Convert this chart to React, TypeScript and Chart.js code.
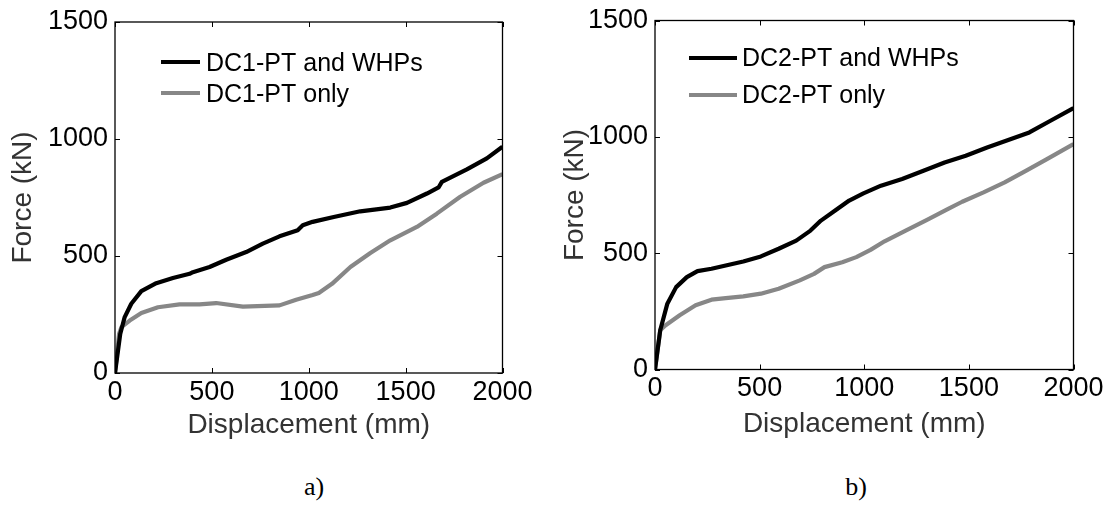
import React, { useEffect, useRef } from 'react';
import { Chart, registerables } from 'chart.js';

Chart.register(...registerables);

// ---------- data ----------
// panel a) DC1
const dispA_WHP = [0, 27, 50, 84, 136, 213, 299, 385, 402, 488, 574, 677, 763, 849, 943, 969, 1020, 1129, 1266, 1421, 1507, 1610, 1670, 1687, 1816, 1919, 2000];
const forceA_WHP = [0, 167, 239, 296, 350, 384, 406, 424, 431, 453, 484, 517, 553, 584, 610, 631, 646, 667, 691, 707, 727, 767, 793, 817, 870, 917, 967];
const dispA_PT = [0, 21, 33, 76, 136, 222, 333, 436, 522, 660, 849, 935, 1020, 1052, 1120, 1215, 1318, 1421, 1558, 1661, 1782, 1902, 2000];
const forceA_PT = [0, 167, 196, 224, 256, 281, 293, 293, 299, 284, 289, 313, 333, 342, 381, 453, 513, 567, 624, 681, 753, 813, 850];

// panel b) DC2
const dispB_WHP = [0, 25, 59, 101, 152, 203, 270, 338, 422, 506, 591, 675, 743, 793, 861, 928, 996, 1080, 1181, 1283, 1384, 1485, 1587, 1688, 1789, 1890, 2000];
const forceB_WHP = [0, 169, 283, 354, 397, 423, 433, 447, 464, 486, 519, 554, 597, 640, 683, 726, 757, 790, 819, 854, 890, 919, 954, 986, 1019, 1069, 1123];
const dispB_PT = [0, 25, 51, 118, 194, 270, 338, 422, 506, 591, 692, 760, 810, 895, 962, 1030, 1097, 1198, 1300, 1401, 1468, 1570, 1671, 1772, 1873, 2000];
const forceB_PT = [0, 169, 190, 233, 276, 300, 307, 314, 326, 347, 383, 411, 440, 461, 483, 514, 551, 597, 643, 690, 721, 761, 804, 854, 904, 969];

const labelsA = ['DC1-PT and WHPs', 'DC1-PT only'];
const labelsB = ['DC2-PT and WHPs', 'DC2-PT only'];
const xTicksMax = 2000;
const yTicksMax = 1500;
const tickStep = 500;

const FONT = 'Liberation Sans';
const BLACK = '#000000';
const GRAY = '#878787';

const toPts = (xs: number[], ys: number[]) => xs.map((x, i) => ({ x, y: ys[i] }));

const boxTicksPlugin = {
  id: 'boxTicks',
  afterDraw(chart: any) {
    const { ctx, chartArea: a, scales } = chart;
    const x = scales.x;
    const y = scales.y;
    const L = 5;
    ctx.save();
    ctx.strokeStyle = '#000';
    ctx.lineWidth = 1.3;
    ctx.strokeRect(a.left, a.top, a.right - a.left, a.bottom - a.top);
    ctx.beginPath();
    x.ticks.forEach((t: any) => {
      const px = Math.round(x.getPixelForValue(t.value)) + 0.5;
      ctx.moveTo(px, a.bottom);
      ctx.lineTo(px, a.bottom - L);
      ctx.moveTo(px, a.top);
      ctx.lineTo(px, a.top + L);
    });
    y.ticks.forEach((t: any) => {
      const py = Math.round(y.getPixelForValue(t.value)) + 0.5;
      ctx.moveTo(a.left, py);
      ctx.lineTo(a.left + L, py);
      ctx.moveTo(a.right, py);
      ctx.lineTo(a.right - L, py);
    });
    ctx.lineWidth = 1;
    ctx.stroke();
    ctx.restore();
  },
};

const innerLegendPlugin = {
  id: 'innerLegend',
  afterDraw(chart: any, _args: any, opts: any) {
    const { ctx } = chart;
    ctx.save();
    ctx.font = `${opts.fontSize}px "${FONT}"`;
    ctx.textBaseline = 'middle';
    ctx.textAlign = 'left';
    chart.data.datasets.forEach((ds: any, i: number) => {
      const ly = opts.ys[i];
      ctx.strokeStyle = ds.borderColor;
      ctx.lineWidth = ds.borderWidth;
      ctx.lineCap = 'butt';
      ctx.beginPath();
      ctx.moveTo(opts.x1, ly);
      ctx.lineTo(opts.x2, ly);
      ctx.stroke();
      ctx.fillStyle = '#000';
      ctx.fillText(ds.label, opts.textX, ly + opts.textDy);
    });
    ctx.restore();
  },
};

type PanelProps = {
  left: number;
  width: number;
  height: number;
  yAxisWidth: number;
  xAxisHeight: number;
  padTop: number;
  padRight: number;
  yTitlePad: number;
  xTitlePad: number;
  labels: string[];
  whp: { x: number; y: number }[];
  pt: { x: number; y: number }[];
  legend: { x1: number; x2: number; textX: number; ys: number[]; textDy: number; fontSize: number };
};

function Panel(p: PanelProps) {
  const ref = useRef<HTMLCanvasElement>(null);
  useEffect(() => {
    if (!ref.current) return;
    const tickFont = { family: FONT, size: 27 };
    const titleFont = { family: FONT, size: 28 };
    const plain = (v: any) => String(v);
    const chart = new Chart(ref.current, {
      type: 'line',
      data: {
        datasets: [
          { label: p.labels[0], data: p.whp, borderColor: BLACK, backgroundColor: BLACK, borderWidth: 4.2 },
          { label: p.labels[1], data: p.pt, borderColor: GRAY, backgroundColor: GRAY, borderWidth: 4.2 },
        ],
      },
      options: {
        animation: false,
        responsive: false,
        maintainAspectRatio: false,
        layout: { padding: { left: 0, top: p.padTop, right: p.padRight, bottom: 0 } },
        elements: {
          point: { radius: 0, hoverRadius: 0 },
          line: { tension: 0, borderJoinStyle: 'round', borderCapStyle: 'butt' },
        },
        plugins: {
          legend: { display: false },
          tooltip: { enabled: false },
          innerLegend: p.legend,
        } as any,
        scales: {
          x: {
            type: 'linear',
            min: 0,
            max: xTicksMax,
            ticks: { stepSize: tickStep, padding: 3, font: tickFont, color: '#000', maxRotation: 0, autoSkip: false, callback: plain },
            grid: { display: false, drawTicks: false },
            border: { display: false },
            title: { display: true, text: 'Displacement (mm)', font: titleFont, color: '#333333', padding: { top: 0, bottom: p.xTitlePad } },
            afterFit: (s: any) => {
              s.height = p.xAxisHeight;
              s.paddingLeft = 0;
              s.paddingRight = 0;
              s.paddingTop = 0;
              s.paddingBottom = 0;
            },
          },
          y: {
            type: 'linear',
            min: 0,
            max: yTicksMax,
            ticks: { stepSize: tickStep, padding: 7, font: tickFont, color: '#000', callback: plain },
            grid: { display: false, drawTicks: false },
            border: { display: false },
            title: { display: true, text: 'Force (kN)', font: titleFont, color: '#333333', padding: { top: p.yTitlePad, bottom: 0 } },
            afterFit: (s: any) => {
              s.width = p.yAxisWidth;
              s.paddingLeft = 0;
              s.paddingRight = 0;
              s.paddingTop = 0;
              s.paddingBottom = 0;
            },
          },
        },
      } as any,
      plugins: [boxTicksPlugin, innerLegendPlugin],
    });
    return () => chart.destroy();
  }, []);
  return (
    <canvas
      ref={ref}
      width={p.width}
      height={p.height}
      style={{ position: 'absolute', left: p.left, top: 0, width: p.width, height: p.height, display: 'block' }}
    />
  );
}

export default function App() {
  const capStyle: React.CSSProperties = {
    position: 'absolute',
    top: 487,
    transform: 'translate(-50%, -50%)',
    font: '26px "Liberation Serif"',
    color: '#000',
    whiteSpace: 'nowrap',
  };
  return (
    <div style={{ position: 'absolute', left: 0, top: 0, width: 1113, height: 511, background: '#fff', overflow: 'hidden' }}>
      <Panel
        left={0}
        width={556}
        height={442}
        yAxisWidth={115}
        xAxisHeight={69}
        padTop={22}
        padRight={53.5}
        yTitlePad={6}
        xTitlePad={0}
        labels={labelsA}
        whp={toPts(dispA_WHP, forceA_WHP)}
        pt={toPts(dispA_PT, forceA_PT)}
        legend={{ x1: 161, x2: 200, textX: 206, ys: [62, 93], textDy: 2, fontSize: 25 }}
      />
      <Panel
        left={556}
        width={557}
        height={442}
        yAxisWidth={99}
        xAxisHeight={72.5}
        padTop={20.5}
        padRight={39.5}
        yTitlePad={2}
        xTitlePad={1}
        labels={labelsB}
        whp={toPts(dispB_WHP, forceB_WHP)}
        pt={toPts(dispB_PT, forceB_PT)}
        legend={{ x1: 133, x2: 181, textX: 186, ys: [58, 95], textDy: 1, fontSize: 25 }}
      />
      <div style={{ ...capStyle, left: 314 }}>a)</div>
      <div style={{ ...capStyle, left: 856 }}>b)</div>
    </div>
  );
}
